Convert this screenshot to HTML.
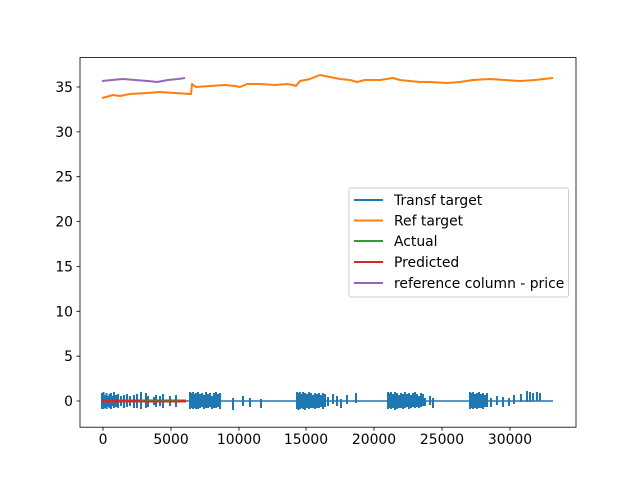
<!DOCTYPE html>
<html><head><meta charset="utf-8"><style>body{margin:0;background:#fff}svg{display:block}text{font-family:"DejaVu Sans","Liberation Sans",sans-serif;font-size:13.9px;fill:#000}</style></head><body>
<svg width="640" height="480" viewBox="0 0 640 480" xmlns="http://www.w3.org/2000/svg">
<rect width="640" height="480" fill="#fff"/>
<path d="M102 401H553" stroke="#1f77b4" stroke-width="1.5" fill="none"/>
<g stroke="#1f77b4" stroke-width="2">
<path d="M102 393V409M103.5 392V409M105 395V408M106.5 393V409M108 396V407M109.5 394V408M111 393V409M112.5 396V406M114 392V408M116 395V407M118 394V408M121 396V406M124 395V408M127 394V407M130 396V406M134 395V408M137 394V408M141 392V409M146 393V408M148 396V407M154 397V405M156 395V407M160 396V406M163 394V408M170 396V406M176 395V407"/>
<path d="M190 392V409M191.5 393V408M193 392V409M194.5 394V408M196 393V409M198 392V409M200 394V408M202 393V407M204 395V409M206 392V408M208 394V408M210 393V407M212 396V409M214 393V408M216 392V408M218 394V407M220 393V409M233 398V410M243 396V406M250 398V407M261 399V408"/>
<path d="M297 392V409M298.5 393V410M300 392V409M301.5 394V408M303 392V409M305 393V410M307 394V408M309 392V409M311 393V408M313 395V408M315 393V409M317 394V408M319 393V408M321 395V407M323 393V409M325 394V407M328 397V406M333 394V404M337 396V406M341 399V408M347 395V404M356 393V403"/>
<path d="M388 392V409M389.5 393V408M391 392V409M393 394V408M395 392V410M397 393V409M399 395V408M401 393V408M403 394V409M405 392V408M407 394V407M409 393V409M411 395V408M413 393V407M415 392V408M417 394V407M419 396V408M421 393V407M423 394V406M425 398V406M430 396V405M433 398V408"/>
<path d="M470 392V409M471.5 393V408M473 392V409M475 394V408M477 393V409M479 392V408M481 394V408M483 393V409M485 395V407M487 393V407M491 398V407M497 396V405M503 397V407M509 398V406M514 395V404M521 394V402M527 391V402M530 392V402M533 393V401M537 392V401M540 393V401"/>
</g>
<path d="M102 401H186" stroke="#d62728" stroke-width="3" fill="none"/>
<path d="M140 400.5H180" stroke="#2ca02c" stroke-width="1" fill="none" opacity="0.5"/>
<polyline fill="none" stroke="#ff7f0e" stroke-width="2" stroke-linejoin="round" points="102,98 106,97 113,95 120,96 130,94 147,93 160,92 175,93 190,94 191,94 192,84 196,87 210,86 225,85 235,86 240,87 247,84 260,84 275,85 287,84 293,85 296,86 300,81 310,79 320,75 330,77 340,79 350,80 357,82 365,80 380,80 393,78 400,80 410,81 420,82 430,82 447,83 460,82 473,80 490,79 505,80 520,81 535,80 553,78"/>
<polyline fill="none" stroke="#9467bd" stroke-width="2" stroke-linejoin="round" points="102,81 112,80 123,79 135,80 148,81 157,82 168,80 178,79 185,78"/>
<rect x="80" y="57.6" width="496" height="369.6" fill="none" stroke="#000" stroke-width="0.8"/>
<g stroke="#000" stroke-width="0.8">
<path d="M103 427.2v3.5M171 427.2v3.5M239 427.2v3.5M306 427.2v3.5M374 427.2v3.5M442 427.2v3.5M510 427.2v3.5"/>
<path d="M80 401h-3.5M80 356.2h-3.5M80 311.3h-3.5M80 266.4h-3.5M80 221.6h-3.5M80 176.7h-3.5M80 131.9h-3.5M80 87h-3.5"/>
</g>
<g text-anchor="middle">
<text x="103" y="444">0</text><text x="171" y="444">5000</text><text x="239" y="444">10000</text><text x="306" y="444">15000</text><text x="374" y="444">20000</text><text x="442" y="444">25000</text><text x="510" y="444">30000</text>
</g>
<g text-anchor="end">
<text x="73" y="406">0</text><text x="73" y="361.2">5</text><text x="73" y="316.3">10</text><text x="73" y="271.4">15</text><text x="73" y="226.6">20</text><text x="73" y="181.7">25</text><text x="73" y="136.9">30</text><text x="73" y="92">35</text>
</g>
<rect x="349" y="188" width="219.5" height="109" rx="2" fill="#fff" fill-opacity="0.8" stroke="#ccc" stroke-width="1"/>
<g stroke-width="2">
<path d="M354 200h29" stroke="#1f77b4"/><path d="M354 220.5h29" stroke="#ff7f0e"/><path d="M354 241h29" stroke="#2ca02c"/><path d="M354 262h29" stroke="#d62728"/><path d="M354 283h29" stroke="#9467bd"/>
</g>
<text x="394" y="205">Transf target</text><text x="394" y="225.5">Ref target</text><text x="394" y="246">Actual</text><text x="394" y="267">Predicted</text><text x="394" y="288">reference column - price</text>
</svg>
</body></html>
